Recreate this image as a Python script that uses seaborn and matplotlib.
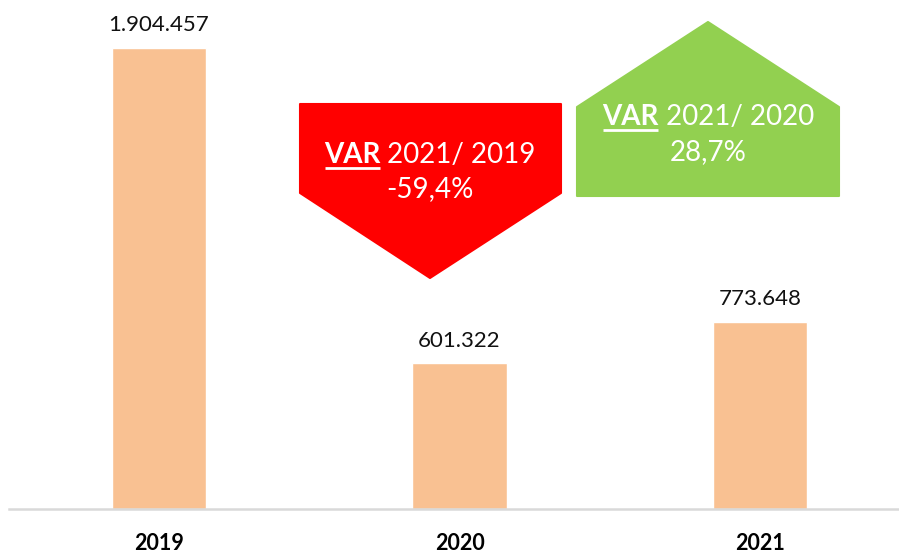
import matplotlib
matplotlib.use("Agg")
import matplotlib.pyplot as plt
import seaborn as sns
import pandas as pd
from matplotlib.patches import Polygon

years = ["2019", "2020", "2021"]
values = [1904457, 601322, 773648]
value_labels = ["1.904.457", "601.322", "773.648"]
var_down_title = "2021/ 2019"
var_down_value = "-59,4%"
var_up_title = "2021/ 2020"
var_up_value = "28,7%"

sns.set_theme(style="white")
plt.rcParams["font.family"] = ["Lato", "DejaVu Sans"]

W, H = 899, 554
fig = plt.figure(figsize=(W / 100, H / 100), dpi=100)
ax = fig.add_axes([9 / W, (H - 509) / H, (W - 9) / W, 509 / H])

df = pd.DataFrame({"year": years, "value": values})
sns.barplot(data=df, x="year", y="value", color="#F9C192", saturation=1,
            width=0.313, ax=ax)

# bar centres at pixels 159 + 300.5*i
ax.set_xlim((9 - 159) / 300.5, (899 - 159) / 300.5)
ax.set_ylim(0, 509 * 4131)

ax.bar_label(ax.containers[0], labels=value_labels, padding=9,
             fontsize=16, color="#111111")

for s in ["top", "right", "left"]:
    ax.spines[s].set_visible(False)
ax.spines["bottom"].set_color("#D9D9D9")
ax.spines["bottom"].set_linewidth(1.8)
ax.set_yticks([])
ax.set_xlabel("")
ax.set_ylabel("")
ax.tick_params(axis="x", length=0, pad=17)
for lbl in ax.get_xticklabels():
    lbl.set_fontweight("bold")
    lbl.set_fontsize(15.5)
    lbl.set_color("black")

# overlay in pixel coordinates for callout shapes
ov = fig.add_axes([0, 0, 1, 1])
ov.set_xlim(0, W)
ov.set_ylim(H, 0)
ov.axis("off")
ov.patch.set_alpha(0)

red = Polygon([(300, 104), (561, 104), (561, 193), (430, 278), (300, 193)],
              closed=True, facecolor="#FF0000", edgecolor="#FF0000",
              linewidth=1.5, joinstyle="round")
green = Polygon([(577, 107), (708, 22), (839, 107), (839, 196), (577, 196)],
                closed=True, facecolor="#92D050", edgecolor="#92D050",
                linewidth=1.5, joinstyle="round")
ov.add_patch(red)
ov.add_patch(green)

fig.canvas.draw()
renderer = fig.canvas.get_renderer()


def two_part_line(cx, cy, rest, size=20):
    t1 = ov.text(0, cy, "VAR", fontsize=size, fontweight="bold", color="white",
                 va="center", ha="left")
    t2 = ov.text(0, cy, " " + rest, fontsize=size, fontweight="normal",
                 color="white", va="center", ha="left")
    b1 = t1.get_window_extent(renderer)
    b2 = t2.get_window_extent(renderer)
    total = b1.width + b2.width
    x0 = cx - total / 2
    t1.set_x(x0)
    t2.set_x(x0 + b1.width)
    uy = cy + 13
    ov.plot([x0 + 1, x0 + b1.width - 1], [uy, uy], color="white", lw=2,
            solid_capstyle="butt")


two_part_line(430, 155, var_down_title)
ov.text(430, 189, var_down_value, fontsize=20, fontweight="normal",
        color="white", ha="center", va="center")
two_part_line(708, 117, var_up_title)
ov.text(708, 152, var_up_value, fontsize=20, fontweight="normal",
        color="white", ha="center", va="center")

fig.savefig("out.png", dpi=100)
